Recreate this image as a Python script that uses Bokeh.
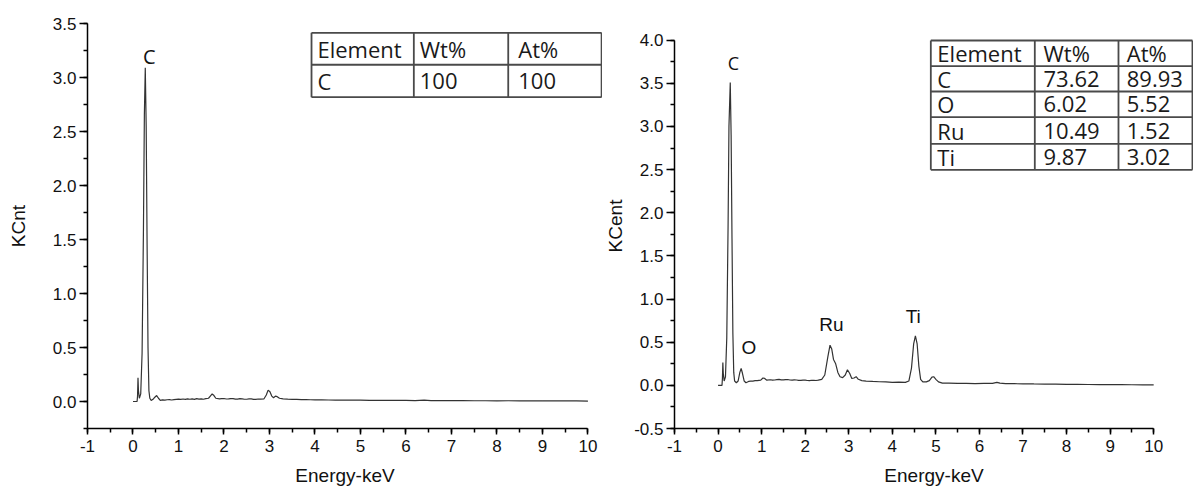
from bokeh.plotting import figure
from bokeh.layouts import row
from bokeh.models import SingleIntervalTicker, PrintfTickFormatter, Range1d
from bokeh.core.properties import value
from bokeh.embed import file_html
from bokeh.resources import INLINE

# ---------------- data ----------------
left_keV = [0.00, 0.05, 0.09, 0.10, 0.11, 0.12, 0.14, 0.17, 0.20, 0.23, 0.25, 0.27, 0.29, 0.31,
            0.33, 0.35, 0.37, 0.40, 0.44, 0.48, 0.52, 0.56, 0.60, 0.65, 0.70, 0.75, 0.80, 0.85,
            0.90, 0.95, 1.00, 1.05, 1.10, 1.15, 1.20, 1.25, 1.30, 1.35, 1.40, 1.45, 1.50, 1.55,
            1.60, 1.66, 1.70, 1.74, 1.78, 1.82, 1.90, 1.95, 2.00, 2.05, 2.10, 2.15, 2.20, 2.25,
            2.30, 2.35, 2.40, 2.45, 2.50, 2.55, 2.60, 2.65, 2.70, 2.75, 2.80, 2.88, 2.93, 2.97,
            3.01, 3.05, 3.09, 3.13, 3.17, 3.22, 3.30, 3.40, 3.50, 3.60, 3.70, 3.80, 3.90, 4.00,
            4.15, 4.30, 4.45, 4.60, 4.80, 5.00, 5.20, 5.40, 5.60, 5.80, 6.00, 6.20, 6.40, 6.55,
            6.70, 7.00, 7.25, 7.50, 7.75, 8.00, 8.25, 8.50, 8.75, 9.00, 9.25, 9.50, 9.75, 10.00]
left_kcnt = [0.000, 0.000, 0.000, 0.050, 0.220, 0.100, 0.030, 0.070, 0.450, 1.600, 2.650, 3.090, 2.550, 1.450,
             0.500, 0.100, 0.030, 0.010, 0.020, 0.040, 0.055, 0.030, 0.010, 0.015, 0.012, 0.016, 0.018, 0.014,
             0.017, 0.020, 0.022, 0.019, 0.023, 0.020, 0.025, 0.021, 0.024, 0.020, 0.026, 0.022, 0.024, 0.021,
             0.027, 0.030, 0.050, 0.070, 0.055, 0.030, 0.025, 0.027, 0.028, 0.023, 0.024, 0.027, 0.027, 0.022,
             0.022, 0.026, 0.025, 0.021, 0.021, 0.024, 0.024, 0.020, 0.020, 0.023, 0.022, 0.025, 0.060, 0.105,
             0.090, 0.050, 0.035, 0.050, 0.045, 0.030, 0.025, 0.022, 0.020, 0.019, 0.018, 0.017, 0.016, 0.015,
             0.015, 0.014, 0.013, 0.012, 0.013, 0.012, 0.011, 0.010, 0.011, 0.010, 0.010, 0.009, 0.013, 0.009,
             0.009, 0.008, 0.008, 0.007, 0.007, 0.006, 0.007, 0.006, 0.006, 0.005, 0.005, 0.005, 0.005, 0.004]

right_keV = [0.00, 0.05, 0.09, 0.10, 0.11, 0.12, 0.14, 0.17, 0.20, 0.23, 0.25, 0.28, 0.30, 0.32,
             0.34, 0.36, 0.38, 0.42, 0.46, 0.50, 0.53, 0.56, 0.60, 0.64, 0.70, 0.75, 0.80, 0.85,
             0.90, 0.98, 1.03, 1.07, 1.12, 1.20, 1.25, 1.30, 1.35, 1.40, 1.45, 1.50, 1.55, 1.60,
             1.65, 1.70, 1.75, 1.80, 1.85, 1.90, 1.95, 2.00, 2.05, 2.10, 2.15, 2.20, 2.25, 2.30,
             2.38, 2.45, 2.52, 2.57, 2.61, 2.65, 2.70, 2.75, 2.80, 2.86, 2.92, 2.97, 3.02, 3.07,
             3.12, 3.17, 3.22, 3.30, 3.40, 3.55, 3.70, 3.85, 4.00, 4.15, 4.30, 4.38, 4.44, 4.49,
             4.53, 4.57, 4.61, 4.65, 4.70, 4.78, 4.85, 4.91, 4.95, 5.00, 5.06, 5.15, 5.30, 5.50,
             5.70, 5.90, 6.10, 6.30, 6.40, 6.47, 6.60, 6.80, 7.00, 7.25, 7.50, 7.75, 8.00, 8.25,
             8.50, 8.75, 9.00, 9.25, 9.50, 9.75, 10.00]
right_kcent = [0.000, 0.000, 0.000, 0.080, 0.265, 0.140, 0.050, 0.100, 0.550, 1.850, 3.000, 3.510, 2.900, 1.700,
               0.600, 0.150, 0.050, 0.030, 0.050, 0.150, 0.195, 0.140, 0.050, 0.030, 0.045, 0.048, 0.050, 0.054,
               0.055, 0.060, 0.085, 0.080, 0.060, 0.065, 0.060, 0.062, 0.066, 0.070, 0.064, 0.063, 0.067, 0.068,
               0.062, 0.060, 0.064, 0.062, 0.058, 0.058, 0.061, 0.060, 0.056, 0.055, 0.059, 0.058, 0.056, 0.060,
               0.070, 0.120, 0.330, 0.465, 0.420, 0.300, 0.250, 0.150, 0.100, 0.090, 0.120, 0.180, 0.140, 0.080,
               0.085, 0.100, 0.070, 0.055, 0.050, 0.045, 0.042, 0.040, 0.035, 0.038, 0.035, 0.050, 0.200, 0.480,
               0.573, 0.480, 0.220, 0.070, 0.040, 0.040, 0.055, 0.095, 0.100, 0.070, 0.040, 0.025, 0.025, 0.022,
               0.023, 0.020, 0.022, 0.022, 0.035, 0.025, 0.020, 0.019, 0.018, 0.016, 0.015, 0.014, 0.012, 0.011,
               0.010, 0.009, 0.008, 0.008, 0.007, 0.006, 0.005]

left_header = ["Element", "Wt%", "At%"]
left_elements = ["C"]
left_wt = ["100"]
left_at = ["100"]

right_header = ["Element", "Wt%", "At%"]
right_elements = ["C", "O", "Ru", "Ti"]
right_wt = ["73.62", "6.02", "10.49", "9.87"]
right_at = ["89.93", "5.52", "1.52", "3.02"]

left_peaks = ["C"]
right_peaks = ["C", "O", "Ru", "Ti"]

LINE = "#333333"
AXIS_FONT = "Liberation Sans"
TABLE_FONT = "Open Sans"


def make_fig(x_end, y_start, y_end, y_top, w, bl, ylabel, ylab_standoff):
    p = figure(output_backend="svg", toolbar_location=None, title=None,
               width=w, height=490,
               x_range=Range1d(-1, x_end), y_range=Range1d(y_start, y_top),
               min_border_left=bl, min_border_right=0, min_border_top=23, min_border_bottom=62)
    p.outline_line_color = None
    p.grid.visible = False
    p.background_fill_color = "white"
    p.border_fill_color = "white"
    xa = p.xaxis[0]
    ya = p.yaxis[0]
    xa.ticker = SingleIntervalTicker(interval=1, num_minor_ticks=2)
    xa.formatter = PrintfTickFormatter(format="%d")
    xa.bounds = (-1, 10)
    ya.ticker = SingleIntervalTicker(interval=0.5, num_minor_ticks=2)
    ya.formatter = PrintfTickFormatter(format="%.1f")
    ya.bounds = (y_start, y_end)
    for ax in (xa, ya):
        ax.axis_line_color = "black"
        ax.axis_line_width = 1.5
        ax.major_tick_line_color = "black"
        ax.major_tick_line_width = 1.5
        ax.minor_tick_line_color = "black"
        ax.minor_tick_line_width = 1.5
        ax.major_tick_in = 0
        ax.minor_tick_in = 0
        ax.major_label_text_font = AXIS_FONT
        ax.major_label_text_font_size = "17px"
        ax.major_label_text_color = "#111111"
        ax.axis_label_text_font = AXIS_FONT
        ax.axis_label_text_font_size = "19px"
        ax.axis_label_text_font_style = "normal"
        ax.axis_label_text_color = "#111111"
    xa.major_tick_out = 6
    xa.minor_tick_out = 4
    xa.major_label_standoff = 5
    xa.axis_label = "Energy-keV"
    xa.axis_label_standoff = 10
    ya.major_tick_out = 8
    ya.minor_tick_out = 4
    ya.major_label_standoff = 3
    ya.axis_label = ylabel
    ya.axis_label_standoff = ylab_standoff
    return p


def draw_table(p, xs, ys, header, elements, wt, at, pads):
    # grid lines
    x0s, y0s, x1s, y1s = [], [], [], []
    for y in ys:
        x0s.append(xs[0]); x1s.append(xs[-1]); y0s.append(y); y1s.append(y)
    for x in xs:
        x0s.append(x); x1s.append(x); y0s.append(ys[0]); y1s.append(ys[-1])
    p.segment(x0s, y0s, x1s, y1s, line_color="#4a4a4a", line_width=1.8)
    rows = [header] + [[e, w, a] for e, w, a in zip(elements, wt, at)]
    tx, ty, tt = [], [], []
    for r, cells in enumerate(rows):
        ymid = (ys[r] + ys[r + 1]) / 2
        for c, txt in enumerate(cells):
            tx.append(xs[c] + pads[c]); ty.append(ymid); tt.append(txt)
    p.text(tx, ty, text=tt, text_font=value(TABLE_FONT), text_font_size="22px",
           text_color="#1a1a1a", text_align="left", text_baseline="middle")


# ---------------- left panel ----------------
p1 = make_fig(10.32, -0.25, 3.5, 3.5, 602, 87, "KCnt", 21)
p1.line(left_keV, left_kcnt, line_color=LINE, line_width=1.2)
p1.text([0.36], [3.19], text=left_peaks, text_font=value(TABLE_FONT), text_font_size="20px",
        text_color="#111111", text_align="center", text_baseline="middle")
draw_table(p1, [3.924, 6.173, 8.248, 10.30], [3.414, 3.118, 2.818],
           left_header, left_elements, left_wt, left_at, [0.13, 0.13, 0.22])

# ---------------- right panel ----------------
p2 = make_fig(10.914, -0.5, 4.0, 4.193, 591, 70, "KCent", 5)
p2.line(right_keV, right_kcent, line_color=LINE, line_width=1.2)
p2.text([0.35], [3.74], text=right_peaks[:1], text_font=value(TABLE_FONT), text_font_size="18px",
        text_color="#111111", text_align="center", text_baseline="middle")
p2.text([0.71, 2.60, 4.48], [0.44, 0.71, 0.80], text=right_peaks[1:], text_font=value(AXIS_FONT),
        text_font_size="19px", text_color="#111111", text_align="center", text_baseline="middle")
draw_table(p2, [4.884, 7.271, 9.192, 10.89], [3.996, 3.698, 3.405, 3.107, 2.799, 2.498],
           right_header, right_elements, right_wt, right_at, [0.15, 0.2, 0.19])

layout = row(p1, p2)
open("out.html", "w").write(file_html(layout, INLINE))
